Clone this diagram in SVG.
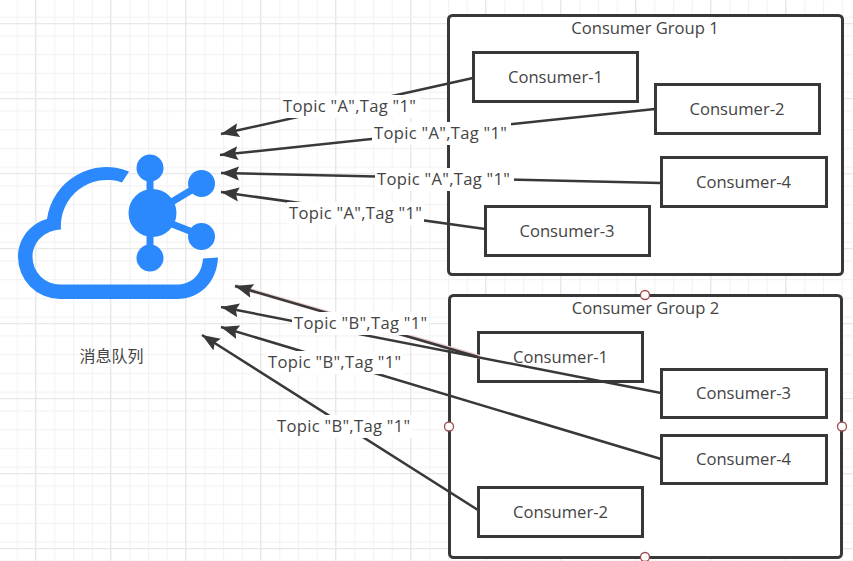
<svg xmlns="http://www.w3.org/2000/svg" width="853" height="561" viewBox="0 0 853 561">
<style>
text{font-family:"Open Sans","Noto Sans","Noto Sans CJK SC",sans-serif;font-size:16.6px;fill:#444}
.m{text-anchor:middle}
.t{letter-spacing:.3px}
.g{fill:#fff;stroke:#383838;stroke-width:3}
.b{fill:#fff;stroke:#383838;stroke-width:3}
.c{fill:none;stroke:#383838;stroke-width:2.5}
.l{fill:#fff}
.h{fill:#fff;stroke:#9c4a4a;stroke-width:1.3}
.i{fill:#2b88fd}
.is{stroke:#2b88fd;fill:none;stroke-width:7}
</style>
<defs>
<pattern id="minor" width="18.75" height="18.75" patternUnits="userSpaceOnUse" x="-2" y="-2.2">
<path d="M0 .5H18.75M.5 0V18.75" stroke="#f3f3f3" stroke-width="1.4" fill="none"/>
</pattern>
<pattern id="major" width="75" height="75" patternUnits="userSpaceOnUse" x="35" y="23">
<path d="M0 .5H75M.5 0V75" stroke="#e8e8e8" stroke-width="1.4" fill="none"/>
</pattern>
<marker id="a" markerUnits="userSpaceOnUse" markerWidth="20" markerHeight="16" refX="18" refY="7" orient="auto-start-reverse" viewBox="0 0 20 14"><path d="M18 7L0 0L3 7L0 14Z" fill="#383838"/></marker>
</defs>
<rect width="853" height="561" fill="#fff"/>
<rect width="853" height="561" fill="url(#minor)"/>
<rect width="853" height="561" fill="url(#major)"/>
<g id="group-1"><rect class="g" x="448.500" y="15.500" width="394" height="259" rx="4"/><text class="m" x="645" y="34">Consumer Group 1</text></g>
<g id="group-2"><rect class="g" x="449.500" y="295.500" width="392" height="262" rx="4"/><text class="m" x="645.500" y="314">Consumer Group 2</text></g>
<g id="cloud">
<path class="i" d="M129 171.500A60 60 0 0 0 47 219C29 224 18 240 18 257A42 42 0 0 0 60 299H177C200 299 217 282 218 257.500L203 258.500C202 274 192 284.500 177 284.500H60A27.500 27.500 0 0 1 32.500 257C32.500 242 45 230 61 229.500A46 46 0 0 1 122 182.500Z"/>
<circle class="i" cx="150" cy="168" r="13.500"/><circle class="i" cx="201.500" cy="183.500" r="13.500"/><circle class="i" cx="201.500" cy="236.500" r="13.500"/><circle class="i" cx="150" cy="258" r="13.500"/><circle class="i" cx="152.500" cy="213" r="24"/>
<path class="is" d="M150 175V195M150 235V250M170 203L195 188M172 224L195 233"/>
<text class="m" x="111.500" y="362" style="font-family:'Noto Sans CJK SC',sans-serif;font-size:16px">消息队列</text>
</g>
<g id="c1-1"><rect class="b" x="473.500" y="52.500" width="164" height="49"/><text class="m" x="555.500" y="83">Consumer-1</text></g>
<g id="c1-2"><rect class="b" x="655.500" y="84.500" width="164" height="49"/><text class="m" x="737" y="115">Consumer-2</text></g>
<g id="c1-4"><rect class="b" x="661.500" y="157.500" width="165" height="49"/><text class="m" x="743.500" y="188">Consumer-4</text></g>
<g id="c1-3"><rect class="b" x="485.500" y="206.500" width="164" height="49"/><text class="m" x="567" y="237">Consumer-3</text></g>
<g id="c2-1"><rect class="b" x="478.500" y="332.500" width="164" height="49"/><text class="m" x="560.500" y="363">Consumer-1</text></g>
<g id="c2-3"><rect class="b" x="661.500" y="369.500" width="165" height="48"/><text class="m" x="743.500" y="399">Consumer-3</text></g>
<g id="c2-4"><rect class="b" x="661.500" y="435.500" width="165" height="48"/><text class="m" x="743.500" y="465">Consumer-4</text></g>
<g id="c2-2"><rect class="b" x="478.500" y="487.500" width="164" height="49"/><text class="m" x="560.500" y="518">Consumer-2</text></g>
<g id="handles"><circle class="h" cx="645" cy="295" r="4.500"/><circle class="h" cx="449" cy="426.500" r="4.500"/><circle class="h" cx="842" cy="426.500" r="4.500"/><circle class="h" cx="645" cy="557" r="4.500"/></g>
<g id="connectors">
<path class="c" marker-end="url(#a)" d="M473 78L221 134"/>
<path class="c" marker-end="url(#a)" d="M655 109L220 155"/>
<path class="c" marker-end="url(#a)" d="M661 183L221 173"/>
<path class="c" marker-end="url(#a)" d="M485 229L221 192"/>
<path d="M480 357L236 286" fill="none" stroke="#e8c9c9" stroke-width="4"/>
<path class="c" marker-end="url(#a)" d="M478 357L235 286"/>
<path class="c" marker-end="url(#a)" d="M661 393L221 307"/>
<path class="c" marker-end="url(#a)" d="M661 459L221 327"/>
<path class="c" marker-end="url(#a)" d="M478 510L202 335"/>
</g>
<g id="edge-labels">
<rect class="l" x="281" y="95" width="139" height="23"/><text class="t" x="283" y="112">Topic "A",Tag "1"</text>
<rect class="l" x="372" y="122" width="139" height="23"/><text class="t" x="374" y="139">Topic "A",Tag "1"</text>
<rect class="l" x="375" y="168" width="139" height="23"/><text class="t" x="377" y="185">Topic "A",Tag "1"</text>
<rect class="l" x="287" y="202" width="137" height="23"/><text class="t" x="289" y="219">Topic "A",Tag "1"</text>
<rect class="l" x="292" y="312" width="137" height="23"/><text class="t" x="294" y="329">Topic "B",Tag "1"</text>
<rect class="l" x="266" y="351" width="137" height="23"/><text class="t" x="268" y="368">Topic "B",Tag "1"</text>
<rect class="l" x="275" y="415" width="137" height="23"/><text class="t" x="277" y="432">Topic "B",Tag "1"</text>
</g>
</svg>
